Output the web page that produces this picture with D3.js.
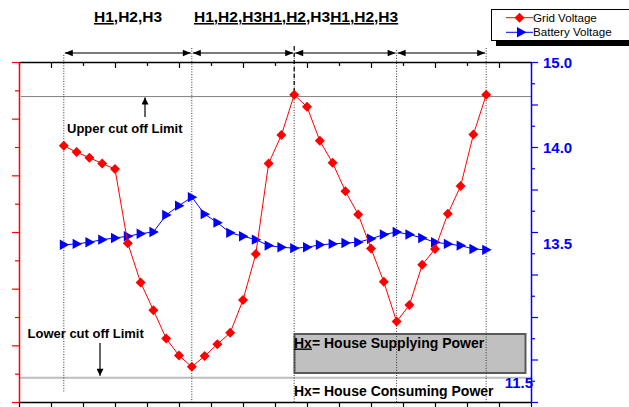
<!DOCTYPE html>
<html><head><meta charset="utf-8">
<script src="https://cdn.jsdelivr.net/npm/d3@7/dist/d3.min.js"></script>
<style>
html,body{margin:0;padding:0;background:#fff;}
svg{display:block;font-family:"Liberation Sans",Arial,sans-serif;}
</style></head>
<body>
<svg id="c" width="629" height="407"></svg>
<script>
// ---- data ----
const xValues = [1.4,1.8,2.2,2.6,3.0,3.4,3.8,4.2,4.6,5.0,5.4,5.8,6.2,6.6,7.0,7.4,7.8,8.2,8.6,9.0,9.4,9.8,10.2,10.6,11.0,11.4,11.8,12.2,12.6,13.0,13.4,13.8,14.2,14.6];
const gridVoltage = [235.2,234.1,233.1,232.1,231.1,218.0,211.1,206.2,201.2,198.2,196.2,198.1,200.2,202.2,208.0,216.1,232.1,237.1,244.2,242.1,236.1,232.2,227.2,223.1,217.1,211.2,204.2,207.1,214.2,217.0,223.2,228.1,237.2,244.2];
const batteryVoltage = [12.85,12.86,12.88,12.91,12.93,12.95,12.98,13.00,13.20,13.31,13.41,13.21,13.11,12.99,12.95,12.91,12.84,12.82,12.81,12.82,12.85,12.86,12.87,12.88,12.92,12.97,13.00,12.97,12.93,12.88,12.86,12.84,12.80,12.79];
const seriesNames = ["Grid Voltage","Battery Voltage"];
const phaseMarks = [1.4,5.4,8.6,11.8,14.6];
const upperLimit = 243.9, lowerLimit = 194.3;
const rightLabelText = ["15.0","14.0","13.5","11.5"];
const rightLabelAt = [15.0,14.0,12.86,11.23];
const xTicks = d3.range(0,17,1);
const leftTicks = d3.range(190,251,5);
const rightTicks = d3.range(11,15.01,0.25);

// ---- scales ----
const svg = d3.select("#c");
const L=19,R=531,T=62,B=402;
const x = d3.scaleLinear().domain([0,16]).range([L,R]);
const yL = d3.scaleLinear().domain([190,250]).range([B,T]);
const yR = d3.scaleLinear().domain([11,15]).range([B,T]);

// ---- cut-off lines ----
svg.append("line").attr("x1",L+2).attr("x2",R).attr("y1",yL(upperLimit)).attr("y2",yL(upperLimit))
  .attr("stroke","#808080").attr("stroke-width",1);
svg.append("line").attr("x1",L).attr("x2",R).attr("y1",yL(lowerLimit)).attr("y2",yL(lowerLimit))
  .attr("stroke","#bdbdbd").attr("stroke-width",2);

// ---- gray box ----
svg.append("rect").attr("x",294.5).attr("y",334).attr("width",231).attr("height",39)
  .attr("fill","#c0c0c0").attr("stroke","#5a5a5a").attr("stroke-width",2);

// ---- vertical phase lines ----
const tops=[55,48,50,50,48], bots=[392,402,402,402,402];
phaseMarks.forEach((m,i)=>{
  svg.append("line").attr("x1",x(m)).attr("x2",x(m)).attr("y1",tops[i]).attr("y2",bots[i])
    .attr("stroke","#333").attr("stroke-width",1).attr("stroke-dasharray","1,1.6");
});
svg.append("line").attr("x1",x(8.6)).attr("x2",x(8.6)).attr("y1",46).attr("y2",yL(upperLimit))
  .attr("stroke","#000").attr("stroke-width",1.2).attr("stroke-dasharray","4,3");

// ---- arrows between phase lines ----
const defs = svg.append("defs");
defs.append("marker").attr("id","ah").attr("viewBox","0 0 10 10").attr("refX",10).attr("refY",5)
  .attr("markerWidth",10).attr("markerHeight",8).attr("markerUnits","userSpaceOnUse").attr("orient","auto-start-reverse")
  .append("path").attr("d","M0,1L10,5L0,9Z").attr("fill","#000");
for(let i=0;i<phaseMarks.length-1;i++){
  svg.append("line").attr("x1",x(phaseMarks[i])+1).attr("x2",x(phaseMarks[i+1])-1).attr("y1",53).attr("y2",53)
    .attr("stroke","#7a7a7a").attr("stroke-width",2)
    .attr("marker-start","url(#ah)").attr("marker-end","url(#ah)");
}

// ---- axes ----
function styleTicks(g, isMajor, majLen, minLen, dir){
  g.selectAll(".tick line").each(function(d){
    const len = isMajor(d)?majLen:minLen;
    const s=d3.select(this);
    if(dir==="x") s.attr("x2",len).attr("y2",0); else s.attr("y2",len).attr("x2",0);
  });
}
// top axis
const gTop = svg.append("g").attr("transform",`translate(0,${T})`)
  .call(d3.axisBottom(x).tickValues(xTicks).tickFormat("").tickSizeOuter(0));
gTop.select(".domain").attr("stroke","#000").attr("stroke-width",1.5);
gTop.selectAll(".tick line").attr("stroke","#000").attr("stroke-width",1.2);
styleTicks(gTop,d=>d%2===1,6,4,"y");
// bottom axis
const gBot = svg.append("g").attr("transform",`translate(0,${B})`)
  .call(d3.axisBottom(x).tickValues(xTicks).tickFormat("").tickSizeOuter(0));
gBot.select(".domain").attr("stroke","#000").attr("stroke-width",1.5);
gBot.selectAll(".tick line").attr("stroke","#000").attr("stroke-width",1.2);
styleTicks(gBot,d=>d%2===1,7,5,"y");
// left axis (red)
const gLeft = svg.append("g").attr("transform",`translate(${L},0)`)
  .call(d3.axisLeft(yL).tickValues(leftTicks).tickFormat("").tickSizeOuter(0));
gLeft.select(".domain").attr("stroke","#ff0000").attr("stroke-width",1.5);
gLeft.selectAll(".tick line").attr("stroke","#ff0000").attr("stroke-width",1.2);
styleTicks(gLeft,d=>d%10===0,-7,-4,"x");
// right axis (blue)
const gRight = svg.append("g").attr("transform",`translate(${R},0)`)
  .call(d3.axisRight(yR).tickValues(rightTicks).tickFormat("").tickSizeOuter(0));
gRight.select(".domain").attr("stroke","#0000ff").attr("stroke-width",1.5);
gRight.selectAll(".tick line").attr("stroke","#0000ff").attr("stroke-width",1.2);
styleTicks(gRight,d=>Math.abs(d*2-Math.round(d*2))<1e-6,7,4,"x");
rightLabelText.forEach((t,i)=>{
  const left = i===3;
  svg.append("text").attr("x",left?533:543).attr("y",yR(rightLabelAt[i])+5.5)
    .attr("text-anchor",left?"end":"start")
    .attr("font-size",15).attr("font-weight","bold").attr("fill","#0000ff").text(t);
});

// ---- series ----
const diamond="M0,-5L5,0L0,5L-5,0Z";
const tri="M-4,-5.2L5.5,0L-4,5.2Z";
const lineB = d3.line().x((d,i)=>x(xValues[i])).y(d=>yR(d));
svg.append("path").datum(batteryVoltage).attr("d",lineB).attr("fill","none").attr("stroke","#0000ff").attr("stroke-width",1);
svg.append("g").selectAll("path").data(batteryVoltage).join("path")
  .attr("transform",(d,i)=>`translate(${x(xValues[i])},${yR(d)})`).attr("d",tri).attr("fill","#0000ff");
const lineG = d3.line().x((d,i)=>x(xValues[i])).y(d=>yL(d));
svg.append("path").datum(gridVoltage).attr("d",lineG).attr("fill","none").attr("stroke","#ff0000").attr("stroke-width",1);
svg.append("g").selectAll("path").data(gridVoltage).join("path")
  .attr("transform",(d,i)=>`translate(${x(xValues[i])},${yL(d)})`).attr("d",diamond).attr("fill","#ff0000");

// ---- annotations ----
function label(xp,yp,size,parts){
  const t=svg.append("text").attr("x",xp).attr("y",yp).attr("font-size",size).attr("font-weight","bold").attr("fill","#000");
  parts.forEach(p=>{const s=t.append("tspan").text(p[0]); if(p[1]) s.attr("text-decoration","underline");});
}
label(94,22,15.5,[["H1",true],[",H2,H3",false]]);
label(194,22,15.5,[["H1,H2,H3H1,H2",true],[",H3",false],["H1,H2,H3",true]]);
label(67,133,13,[["Upper cut off Limit",false]]);
label(27.5,337.5,13,[["Lower cut off Limit",false]]);
label(294,347.5,14,[["Hx",true],["= House Supplying Power",false]]);
label(294,395.5,14,[["Hx= House Consuming Power",false]]);

defs.append("marker").attr("id","ah2").attr("viewBox","0 0 10 10").attr("refX",10).attr("refY",5)
  .attr("markerWidth",9).attr("markerHeight",7).attr("markerUnits","userSpaceOnUse").attr("orient","auto")
  .append("path").attr("d","M0,0L10,5L0,10Z").attr("fill","#000");
svg.append("line").attr("x1",145).attr("x2",145).attr("y1",117).attr("y2",yL(upperLimit)+1)
  .attr("stroke","#000").attr("stroke-width",1.2).attr("marker-end","url(#ah2)");
svg.append("line").attr("x1",100).attr("x2",100).attr("y1",343).attr("y2",yL(lowerLimit)-2)
  .attr("stroke","#000").attr("stroke-width",1.2).attr("marker-end","url(#ah2)");

// ---- legend ----
svg.append("rect").attr("x",496).attr("y",40).attr("width",140).attr("height",6).attr("fill","#000");
svg.append("rect").attr("x",491.5).attr("y",9.5).attr("width",150).attr("height",31).attr("fill","#fff").attr("stroke","#000").attr("stroke-width",1);
const legY=[17.7,32.3], legCol=["#ff0000","#0000ff"], legSym=[diamond,tri];
seriesNames.forEach((n,i)=>{
  svg.append("line").attr("x1",506).attr("x2",533).attr("y1",legY[i]).attr("y2",legY[i]).attr("stroke",legCol[i]).attr("stroke-width",1);
  svg.append("path").attr("transform",`translate(${i?521:519.5},${legY[i]})`).attr("d",legSym[i]).attr("fill",legCol[i]);
  svg.append("text").attr("x",533).attr("y",legY[i]+4).attr("font-size",11.6).attr("fill","#000").text(n);
});
</script>
</body></html>
